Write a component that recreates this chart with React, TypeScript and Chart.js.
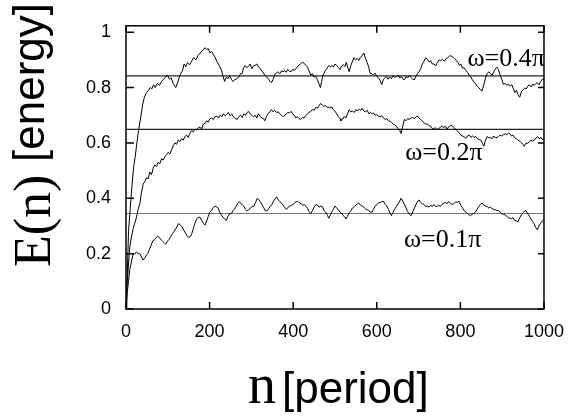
import { useEffect, useRef } from "react";
import { Chart, registerables } from "chart.js";

Chart.register(...registerables);

// ---- data ----
const n04 = [0,3,6,10,14,18,22,26,30,35,40,44,49,54,58,62,66,70,75,80,85,90,95,99,104,108,113,119,124,128,131,135,139,143,147,152,157,162,167,172,176,180,185,189,193,197,201,205,209,213,217,221,225,229,232,236,240,244,248,252,256,260,265,270,274,278,281,285,289,293,297,301,305,309,313,317,321,326,332,337,341,345,348,352,356,360,363,368,372,376,379,383,387,391,395,399,403,407,410,414,418,422,426,430,434,438,442,446,450,454,458,462,465,468,471,474,477,481,485,489,493,496,500,504,508,512,516,520,524,527,531,534,538,542,545,549,553,557,561,565,569,573,577,581,584,588,592,596,600,604,608,612,616,620,623,627,631,635,639,643,647,651,655,659,663,666,670,674,678,682,686,690,694,697,701,705,709,713,717,721,725,729,733,737,741,745,749,753,757,762,766,770,774,778,782,786,790,794,798,801,805,809,813,817,821,824,828,832,836,840,844,848,852,856,860,864,868,872,876,880,884,887,891,895,899,903,907,911,915,919,923,927,930,934,938,942,946,950,954,958,961,965,969,973,977,981,984,988,992,996,1000];
const e04 = [0,0.12,0.28,0.36,0.44,0.51,0.55,0.6,0.645,0.69,0.74,0.765,0.782,0.79,0.8,0.795,0.81,0.8,0.815,0.808,0.822,0.83,0.838,0.845,0.83,0.835,0.815,0.8,0.82,0.84,0.851,0.86,0.885,0.875,0.89,0.882,0.895,0.908,0.9,0.915,0.922,0.93,0.935,0.944,0.938,0.94,0.925,0.93,0.919,0.91,0.895,0.885,0.874,0.86,0.84,0.822,0.838,0.832,0.842,0.83,0.822,0.828,0.832,0.838,0.85,0.851,0.87,0.879,0.872,0.876,0.885,0.868,0.878,0.88,0.885,0.875,0.868,0.858,0.845,0.838,0.83,0.822,0.817,0.83,0.848,0.852,0.857,0.85,0.86,0.856,0.862,0.855,0.865,0.858,0.857,0.866,0.862,0.87,0.874,0.882,0.886,0.891,0.888,0.88,0.874,0.86,0.845,0.85,0.838,0.84,0.828,0.812,0.8,0.822,0.845,0.851,0.862,0.87,0.879,0.875,0.88,0.874,0.885,0.88,0.872,0.865,0.878,0.882,0.876,0.891,0.87,0.857,0.88,0.895,0.908,0.9,0.905,0.898,0.91,0.915,0.925,0.905,0.89,0.872,0.851,0.85,0.845,0.852,0.84,0.835,0.825,0.811,0.83,0.836,0.84,0.83,0.838,0.832,0.842,0.836,0.84,0.845,0.835,0.84,0.83,0.828,0.84,0.835,0.843,0.836,0.83,0.828,0.842,0.85,0.857,0.868,0.885,0.895,0.908,0.902,0.892,0.897,0.885,0.885,0.878,0.891,0.9,0.897,0.902,0.895,0.905,0.908,0.914,0.914,0.91,0.905,0.898,0.89,0.88,0.885,0.87,0.872,0.862,0.855,0.845,0.84,0.83,0.82,0.815,0.805,0.8,0.792,0.788,0.81,0.834,0.85,0.857,0.85,0.845,0.858,0.868,0.874,0.865,0.845,0.83,0.811,0.815,0.808,0.812,0.805,0.81,0.795,0.782,0.79,0.775,0.765,0.785,0.792,0.798,0.795,0.805,0.81,0.802,0.812,0.808,0.815,0.817,0.81,0.822,0.83,0.828];

const n02 = [0,2,5,9,13,17,21,25,29,33,37,41,45,49,53,57,61,65,69,73,77,81,85,89,93,97,101,105,109,113,117,121,125,129,133,137,141,145,149,153,157,161,165,169,173,177,181,185,189,193,197,201,205,209,213,217,221,225,229,233,237,241,245,249,253,257,261,266,270,274,278,282,286,290,293,297,301,305,309,313,317,321,325,329,332,336,340,344,348,352,356,360,364,368,372,376,379,383,387,391,395,399,403,406,410,414,418,422,426,430,434,438,442,446,450,454,458,462,465,469,473,477,481,485,488,492,496,500,504,508,512,514,518,522,526,530,534,538,542,546,550,554,558,562,565,569,573,577,581,585,589,592,596,600,604,608,612,616,620,624,628,632,635,639,643,647,651,655,658,662,666,670,674,678,682,686,690,694,697,701,705,709,713,717,721,725,729,733,736,740,744,748,752,756,760,764,768,772,776,780,784,788,792,796,801,805,809,813,817,821,825,829,833,837,841,845,849,853,856,860,864,868,872,876,880,884,888,891,895,899,903,907,911,915,918,922,926,930,934,938,942,946,950,953,957,961,965,969,973,977,981,985,989,993,997,1000];
const e02 = [0,0.075,0.14,0.224,0.26,0.29,0.31,0.33,0.36,0.38,0.42,0.451,0.46,0.474,0.47,0.495,0.485,0.508,0.52,0.515,0.53,0.525,0.543,0.538,0.55,0.558,0.566,0.56,0.575,0.59,0.6,0.595,0.61,0.605,0.615,0.61,0.623,0.628,0.62,0.635,0.645,0.64,0.65,0.646,0.655,0.657,0.65,0.668,0.67,0.68,0.675,0.688,0.69,0.684,0.695,0.697,0.69,0.7,0.694,0.705,0.698,0.703,0.71,0.698,0.705,0.695,0.688,0.685,0.695,0.7,0.692,0.705,0.7,0.71,0.714,0.705,0.7,0.694,0.7,0.69,0.705,0.695,0.69,0.688,0.68,0.695,0.705,0.712,0.72,0.712,0.718,0.71,0.712,0.705,0.7,0.694,0.697,0.705,0.71,0.708,0.714,0.705,0.698,0.691,0.695,0.688,0.685,0.692,0.69,0.698,0.705,0.71,0.714,0.72,0.718,0.728,0.725,0.735,0.742,0.738,0.732,0.735,0.728,0.73,0.725,0.73,0.72,0.715,0.705,0.695,0.688,0.68,0.685,0.695,0.69,0.705,0.72,0.712,0.715,0.71,0.72,0.715,0.722,0.718,0.725,0.715,0.712,0.718,0.705,0.71,0.705,0.708,0.7,0.702,0.697,0.695,0.698,0.69,0.685,0.688,0.68,0.678,0.674,0.668,0.665,0.66,0.652,0.645,0.634,0.66,0.685,0.68,0.688,0.684,0.69,0.692,0.688,0.695,0.697,0.69,0.685,0.678,0.672,0.668,0.668,0.662,0.66,0.652,0.651,0.655,0.648,0.652,0.656,0.662,0.655,0.66,0.65,0.658,0.662,0.663,0.655,0.65,0.645,0.638,0.628,0.625,0.622,0.617,0.625,0.628,0.62,0.625,0.62,0.623,0.615,0.612,0.61,0.598,0.588,0.61,0.623,0.618,0.62,0.615,0.625,0.618,0.62,0.623,0.628,0.625,0.63,0.632,0.63,0.635,0.634,0.625,0.628,0.618,0.615,0.61,0.606,0.6,0.595,0.588,0.6,0.598,0.605,0.61,0.606,0.611,0.618,0.622,0.615,0.62,0.612,0.615];

const n01 = [0,3,6,9,13,17,21,25,29,33,37,41,45,49,52,56,60,64,68,72,76,80,84,87,91,95,99,103,107,111,115,119,122,126,130,134,138,142,146,150,154,157,161,165,169,173,177,181,185,189,193,197,200,204,208,212,216,220,224,228,232,236,240,244,248,252,256,259,263,267,271,275,279,282,286,290,294,298,302,306,310,314,318,321,325,329,333,337,341,345,349,353,357,360,364,368,372,376,380,384,388,392,396,400,404,408,411,415,419,423,427,431,435,438,442,446,450,454,458,462,466,470,474,478,482,485,489,493,496,500,504,508,512,516,520,524,526,530,534,538,542,546,550,554,557,561,565,569,573,577,581,585,588,592,596,600,604,608,612,616,620,624,628,632,635,639,643,647,651,655,658,662,666,670,674,678,682,686,690,694,698,701,705,709,713,717,721,725,729,733,736,740,744,748,752,756,760,764,768,772,776,780,784,788,792,797,801,805,809,813,817,821,824,828,832,836,840,844,848,852,856,860,864,868,872,876,880,884,888,891,895,899,903,907,911,915,919,922,926,930,934,938,942,946,950,954,957,961,965,969,973,976,980,984,988,992,996,1000];
const e01 = [0,0.06,0.1,0.143,0.17,0.2,0.198,0.206,0.2,0.2,0.188,0.177,0.185,0.195,0.2,0.215,0.23,0.246,0.25,0.258,0.263,0.258,0.25,0.246,0.24,0.234,0.245,0.251,0.262,0.272,0.28,0.29,0.298,0.309,0.303,0.297,0.285,0.275,0.265,0.258,0.262,0.27,0.29,0.31,0.326,0.33,0.332,0.32,0.31,0.303,0.318,0.335,0.348,0.355,0.365,0.371,0.37,0.366,0.35,0.34,0.332,0.325,0.32,0.335,0.343,0.345,0.355,0.36,0.37,0.38,0.388,0.382,0.375,0.371,0.36,0.354,0.36,0.365,0.37,0.371,0.385,0.4,0.395,0.388,0.378,0.368,0.355,0.354,0.362,0.37,0.377,0.39,0.398,0.405,0.395,0.388,0.383,0.375,0.366,0.36,0.368,0.372,0.375,0.377,0.385,0.388,0.389,0.383,0.38,0.375,0.377,0.37,0.362,0.352,0.345,0.355,0.368,0.377,0.375,0.368,0.372,0.37,0.355,0.35,0.338,0.328,0.34,0.352,0.36,0.372,0.365,0.358,0.35,0.345,0.338,0.33,0.326,0.335,0.348,0.355,0.365,0.37,0.375,0.38,0.383,0.375,0.372,0.368,0.362,0.358,0.355,0.35,0.349,0.36,0.37,0.378,0.383,0.385,0.388,0.389,0.378,0.372,0.36,0.345,0.337,0.35,0.362,0.37,0.38,0.39,0.4,0.39,0.378,0.365,0.352,0.342,0.337,0.35,0.365,0.378,0.39,0.394,0.385,0.38,0.378,0.37,0.372,0.368,0.375,0.37,0.377,0.372,0.37,0.375,0.37,0.378,0.382,0.385,0.38,0.388,0.382,0.378,0.38,0.386,0.385,0.389,0.375,0.365,0.355,0.35,0.345,0.34,0.337,0.342,0.345,0.35,0.36,0.37,0.378,0.383,0.375,0.372,0.37,0.365,0.368,0.362,0.36,0.358,0.355,0.355,0.35,0.345,0.342,0.34,0.335,0.33,0.328,0.326,0.33,0.32,0.318,0.315,0.33,0.34,0.348,0.355,0.355,0.345,0.335,0.325,0.315,0.309,0.295,0.286,0.3,0.31,0.318,0.32];

const avgLevels = [0.842, 0.6485, 0.345];
const avgColors = ["#222222", "#222222", "#777777"];

const xTicks = [0, 200, 400, 600, 800, 1000];
const xTickLabels = ["0", "200", "400", "600", "800", "1000"];
const yTicks = [0, 0.2, 0.4, 0.6, 0.8, 1];
const yTickLabels = ["0", "0.2", "0.4", "0.6", "0.8", "1"];

const curveLabels = ["ω=0.4π", "ω=0.2π", "ω=0.1π"];
const curveLabelN = [817, 668, 665];
const curveLabelE = [0.879, 0.537, 0.223];

const SANS = '"Liberation Sans", Arial, sans-serif';
const SERIF = '"Liberation Serif", "Times New Roman", serif';

const decorPlugin = {
  id: "decor",
  afterDatasetsDraw(chart: any) {
    const { ctx, chartArea, scales } = chart;
    const { left, right, top, bottom } = chartArea;
    const xs = scales.x;
    const ys = scales.y;
    ctx.save();
    ctx.strokeStyle = "#000";
    ctx.lineWidth = 1.5;
    ctx.strokeRect(left, top, right - left, bottom - top);
    ctx.beginPath();
    xTicks.forEach((v) => {
      const px = xs.getPixelForValue(v);
      ctx.moveTo(px, bottom);
      ctx.lineTo(px, bottom - 7);
      ctx.moveTo(px, top);
      ctx.lineTo(px, top + 7);
    });
    yTicks.forEach((v) => {
      const py = ys.getPixelForValue(v);
      ctx.moveTo(left, py);
      ctx.lineTo(left + 8, py);
      ctx.moveTo(right, py);
      ctx.lineTo(right - 6, py);
    });
    ctx.stroke();
    ctx.fillStyle = "#000";
    ctx.font = `26px ${SERIF}`;
    ctx.textAlign = "left";
    ctx.textBaseline = "alphabetic";
    curveLabels.forEach((t, i) => {
      ctx.fillText(t, xs.getPixelForValue(curveLabelN[i]), ys.getPixelForValue(curveLabelE[i]));
    });
    ctx.restore();
  },
  afterDraw(chart: any) {
    const { ctx } = chart;
    ctx.save();
    ctx.fillStyle = "#000";
    ctx.textAlign = "left";
    ctx.textBaseline = "alphabetic";
    ctx.font = `56px ${SERIF}`;
    ctx.fillText("n", 248, 403);
    ctx.font = `44px ${SANS}`;
    ctx.fillText("[period]", 282, 403);
    ctx.translate(50, 267);
    ctx.rotate(-Math.PI / 2);
    ctx.font = `52px ${SERIF}`;
    ctx.fillText("E(n)", 0, 0);
    ctx.font = `44px ${SANS}`;
    ctx.fillText("[energy]", 105, -6);
    ctx.restore();
  },
};

export default function App() {
  const ref = useRef<HTMLCanvasElement | null>(null);
  useEffect(() => {
    if (!ref.current) return;
    const mk = (ns: number[], es: number[]) => ns.map((x, i) => ({ x, y: es[i] }));
    const curves = [mk(n04, e04), mk(n02, e02), mk(n01, e01)].map((d) => ({
      data: d,
      borderColor: "#000",
      borderWidth: 1,
      pointRadius: 0,
      tension: 0,
      fill: false,
    }));
    const lines = avgLevels.map((v, i) => ({
      data: [
        { x: 0, y: v },
        { x: 1000, y: v },
      ],
      borderColor: avgColors[i],
      borderWidth: 1.2,
      pointRadius: 0,
      fill: false,
    }));
    const chart = new Chart(ref.current, {
      type: "line",
      data: { datasets: [...curves, ...lines] as any },
      options: {
        animation: false,
        responsive: false,
        devicePixelRatio: 1,
        layout: { padding: { left: 0, right: 24, top: 9, bottom: 0 } },
        plugins: { legend: { display: false }, tooltip: { enabled: false } },
        scales: {
          x: {
            type: "linear",
            min: 0,
            max: 1000,
            grid: { display: false, drawTicks: false },
            border: { display: false },
            afterBuildTicks: (s: any) => {
              s.ticks = xTicks.map((v) => ({ value: v }));
            },
            afterFit: (s: any) => {
              s.height = 109;
            },
            ticks: {
              autoSkip: false,
              maxRotation: 0,
              padding: 12,
              color: "#000",
              font: { family: SANS, size: 18 },
              callback: (_v: any, i: number) => xTickLabels[i],
            },
          },
          y: {
            type: "linear",
            min: 0,
            max: 1.023,
            grid: { display: false, drawTicks: false },
            border: { display: false },
            afterBuildTicks: (s: any) => {
              s.ticks = yTicks.map((v) => ({ value: v }));
            },
            afterFit: (s: any) => {
              s.width = 126;
            },
            ticks: {
              autoSkip: false,
              padding: 15,
              color: "#000",
              font: { family: SANS, size: 18 },
              callback: (_v: any, i: number) => yTickLabels[i],
            },
          },
        },
      },
      plugins: [decorPlugin],
    });
    return () => chart.destroy();
  }, []);
  return (
    <div style={{ position: "absolute", left: 0, top: 0, width: 576, height: 418, background: "#fff" }}>
      <canvas ref={ref} width={576} height={418} style={{ display: "block" }} />
    </div>
  );
}
